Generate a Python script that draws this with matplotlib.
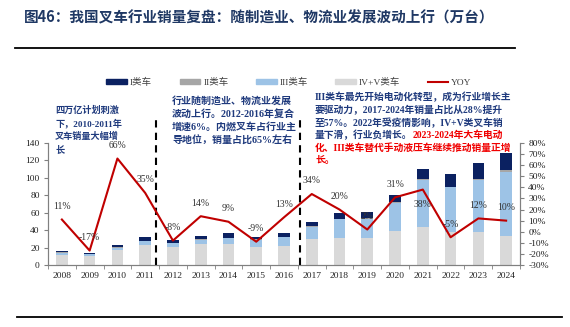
import matplotlib
matplotlib.use('Agg')
import matplotlib.pyplot as plt
from matplotlib.patches import Patch
from matplotlib.lines import Line2D
from matplotlib.ticker import FuncFormatter, FixedLocator
import numpy as np

years = [str(y) for y in range(2008, 2025)]
class_iv_v = [12.0, 10.5, 17.5, 23.0, 20.5, 24.0, 24.5, 20.3, 22.0, 29.5, 31.4, 30.6, 39.0, 44.0, 38.3, 37.5, 33.7]
class_iii = [2.0, 1.6, 2.5, 4.0, 4.5, 5.0, 6.3, 8.6, 10.0, 14.0, 21.0, 22.4, 32.3, 53.5, 50.8, 60.4, 73.3]
class_ii = [0.5, 0.4, 0.6, 0.6, 0.6, 0.6, 0.6, 0.6, 0.6, 0.7, 0.7, 0.7, 0.8, 0.9, 0.9, 1.0, 1.8]
class_i = [1.1, 1.5, 2.8, 4.0, 3.2, 3.2, 4.8, 3.2, 4.4, 5.5, 6.6, 7.1, 7.9, 11.4, 14.8, 17.8, 19.4]
yoy = [11, -17, 66, 35, -8, 14, 9, -9, 13, 34, 20, 2, 31, 38, -5, 12, 10]
yoy_labels = ['11%', '-17%', '66%', '35%', '-8%', '14%', '9%', '-9%', '13%', '34%', '20%', '2%', '31%', '38%', '-5%', '12%', '10%']
legend_labels = ['I类车', 'II类车', 'III类车', 'IV+V类车', 'YOY']
left_ticks = [0, 20, 40, 60, 80, 100, 120, 140]
right_ticks = [-30, -20, -10, 0, 10, 20, 30, 40, 50, 60, 70, 80]

title = '图46：我国叉车行业销量复盘：随制造业、物流业发展波动上行（万台）'
note_left = ['四万亿计划刺激', '下，2010-2011年', '叉车销量大幅增', '长']
note_mid = ['行业随制造业、物流业发展', '波动上行。2012-2016年复合', '增速6%。内燃叉车占行业主', '导地位，销量占比65%左右']
note_right_blue = ['III类车最先开始电动化转型，成为行业增长主', '要驱动力，2017-2024年销量占比从28%提升', '至57%。2022年受疫情影响，IV+V类叉车销']
note_right_mixed = ('量下滑，行业负增长。', '2023-2024年大车电动')
note_right_red = ['化、III类车替代手动液压车继续推动销量正增', '长。']

C_I = '#0B2161'
C_II = '#A6A6A6'
C_III = '#9DC3E6'
C_IV = '#D9D9D9'
C_RED = '#C00000'
C_NAVY = '#1F3A7D'
C_TXT_RED = '#F00000'
FAM = ['Liberation Serif', 'Noto Sans CJK SC']

W, H = 570, 327
fig = plt.figure(figsize=(W / 100, H / 100), dpi=100)

def fx(px):
    return px / W

def fy(py):
    return 1 - py / H

ax = fig.add_axes([fx(48), fy(265), fx(520) - fx(48), fy(143) - fy(265)])
ax2 = ax.twinx()

x = np.arange(len(years))
bw = 0.42
b0 = np.zeros(len(years))
for vals, col in [(class_iv_v, C_IV), (class_iii, C_III), (class_ii, C_II), (class_i, C_I)]:
    ax.bar(x, vals, bw, bottom=b0, color=col, zorder=2)
    b0 = b0 + np.array(vals)

ax.set_xlim(-0.5, len(years) - 0.5)
ax.set_ylim(0, 140)
ax.set_yticks(left_ticks)
ax.set_xticks(x)
ax.set_xticklabels(years)
ax.xaxis.set_minor_locator(FixedLocator(np.arange(-0.5, len(years), 1.0)))
ax.tick_params(axis='x', which='major', length=0, pad=5, labelsize=6.8, labelcolor='#222222')
ax.tick_params(axis='x', which='minor', length=3, color='#808080', direction='out')
ax.tick_params(axis='y', length=3, color='#808080', labelsize=6.8, labelcolor='#222222', pad=3)

ax2.plot(x, yoy, color=C_RED, lw=1.5, zorder=5)
ax2.set_ylim(-30, 80)
ax2.set_yticks(right_ticks)
ax2.yaxis.set_major_formatter(FuncFormatter(lambda v, p: f'{int(v)}%'))
ax2.tick_params(axis='y', length=3, color='#808080', labelsize=6.8, labelcolor='#222222', pad=3)

for a in (ax, ax2):
    a.spines['top'].set_visible(False)
    for s in ('left', 'right', 'bottom'):
        a.spines[s].set_color('#808080')
        a.spines[s].set_linewidth(0.8)
    for lab in a.get_xticklabels() + a.get_yticklabels():
        lab.set_fontfamily('Liberation Serif')
ax.patch.set_visible(False)

for i, (v, lab) in enumerate(zip(yoy, yoy_labels)):
    off = -11 if lab == '38%' else 9.5
    ax2.annotate(lab, (x[i], v), xytext=(0, off), textcoords='offset points',
                 ha='center', va='center', fontsize=7, color='#333333',
                 family='Liberation Serif', zorder=6)

for xv in (3.38, 8.59):
    ax.axvline(xv, ymin=0, ymax=1.21, color='black', lw=1.5, ls=(0, (3.5, 2.5)),
               clip_on=False, zorder=4)

fig.text(fx(24), fy(17), title, fontsize=10.5, fontweight='bold', color='#1F3864',
         family=['Noto Sans CJK SC'], va='center', ha='left')
fig.add_artist(Line2D([fx(15), fx(515)], [fy(47.5), fy(47.5)], color='black', lw=1.3))
fig.add_artist(Line2D([fx(17), fx(562)], [fy(316.5), fy(316.5)], color='black', lw=1.3))

handles = [Patch(color=C_I), Patch(color=C_II), Patch(color=C_III), Patch(color=C_IV),
           Line2D([0], [0], color=C_RED, lw=1.5)]
leg = fig.legend(handles, legend_labels, loc='center', bbox_to_anchor=(fx(289), fy(82)),
                 ncol=5, frameon=False, handlelength=2.2, handleheight=0.45,
                 columnspacing=2.9, handletextpad=0.3,
                 prop={'family': FAM, 'size': 6.8})
for t in leg.get_texts():
    t.set_color('#404040')

def lines_at(lines, x0, ys, color, size):
    for s, yv in zip(lines, ys):
        fig.text(fx(x0), fy(yv), s, fontsize=size, fontweight='bold', color=color,
                 family=FAM, va='center', ha='left')

lines_at(note_left, 55, [110, 123.3, 136.7, 150], C_NAVY, 6.6)
lines_at(note_mid, 172, [100.7, 114, 127.3, 141], C_NAVY, 7.2)
lines_at(note_right_blue, 315, [97, 109.8, 122.5], C_NAVY, 7.05)
t1 = fig.text(fx(315), fy(135.2), note_right_mixed[0], fontsize=7.05, fontweight='bold',
              color=C_NAVY, family=FAM, va='center', ha='left')
ax.annotate(note_right_mixed[1], xy=(1, 0.5), xycoords=t1, ha='left', va='center',
            fontsize=7.05, fontweight='bold', color=C_TXT_RED, family=FAM,
            annotation_clip=False)
lines_at(note_right_red, 315, [147.8, 160.4], C_TXT_RED, 7.05)

fig.savefig('out.png', dpi=100)
